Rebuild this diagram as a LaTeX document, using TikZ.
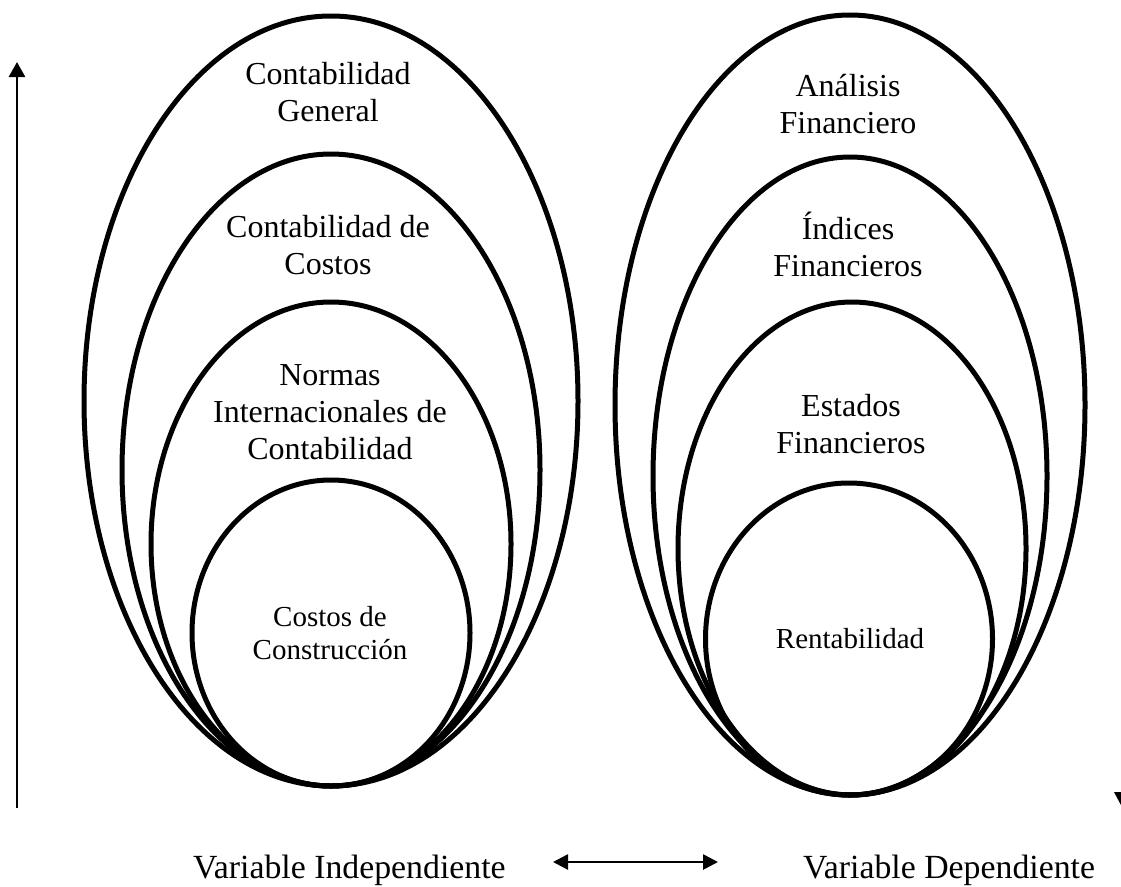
\documentclass[tikz,border=0pt]{standalone}
\usepackage{fontspec}
\setmainfont{Liberation Serif}
\usetikzlibrary{arrows.meta}
\begin{document}
\begin{tikzpicture}[x=1pt,y=-1pt,
  ring/.style={line width=5pt},
  lbl/.style={inner sep=0pt,align=center,anchor=base,font=\fontsize{32}{37}\selectfont},
  small/.style={font=\fontsize{29}{33}\selectfont},
  axis/.style={line width=2.7pt,-{Triangle[length=15pt,width=16pt]}},
  both/.style={line width=2.7pt,{Triangle[length=15pt,width=15pt]}-{Triangle[length=15pt,width=15pt]}},
  caption/.style={inner sep=0pt,anchor=base west,font=\fontsize{33.8}{38}\selectfont}]
\useasboundingbox (0,0) rectangle (1121,886);
\clip (0,0) rectangle (1121,886);

% vertical axis on the left
\coordinate (axisbot) at (17,808);
\coordinate (axistop) at (17,62);
\draw[axis] (axisbot) -- (axistop);

% nested ellipses: independent variable
\draw[ring] (331,401) ellipse [x radius=247, y radius=385];
\draw[ring] (331,470) ellipse [x radius=209, y radius=316];
\draw[ring] (331,544) ellipse [x radius=180, y radius=242];
\draw[ring] (331,633) ellipse [x radius=139, y radius=153];

% nested ellipses: dependent variable
\draw[ring] (850,405) ellipse [x radius=235, y radius=390];
\draw[ring] (850,476) ellipse [x radius=197, y radius=319];
\draw[ring] (852,548.5) ellipse [x radius=174, y radius=246.5];
\draw[ring] (849,639) ellipse [x radius=143.5, y radius=156];

% labels inside the ellipses (anchored at the baseline of the last line)
\node[lbl] (cg) at (328,121) {Contabilidad\\General};
\node[lbl] (cc) at (328,274) {Contabilidad de\\Costos};
\node[lbl] (ni) at (330,459) {Normas\\Internacionales de\\Contabilidad};
\node[lbl,small] (cs) at (330,659) {Costos de\\Construcción};
\node[lbl] (af) at (848,133) {Análisis\\Financiero};
\node[lbl] (ifin) at (848,276) {Índices\\Financieros};
\node[lbl] (ef) at (851,453) {Estados\\Financieros};
\node[lbl,small] (re) at (850,648) {Rentabilidad};

% captions and the two-way arrow between them
\node[caption] (vi) at (193,878) {Variable Independiente};
\node[caption] (vd) at (803,878) {Variable Dependiente};
\coordinate (dl) at (553,862);
\coordinate (dr) at (718,862);
\draw[both] (dl) -- (dr);

% arrow tip at the right edge
\fill (1114,792) -- (1130,792) -- (1122,807) -- cycle;
\end{tikzpicture}
\end{document}
